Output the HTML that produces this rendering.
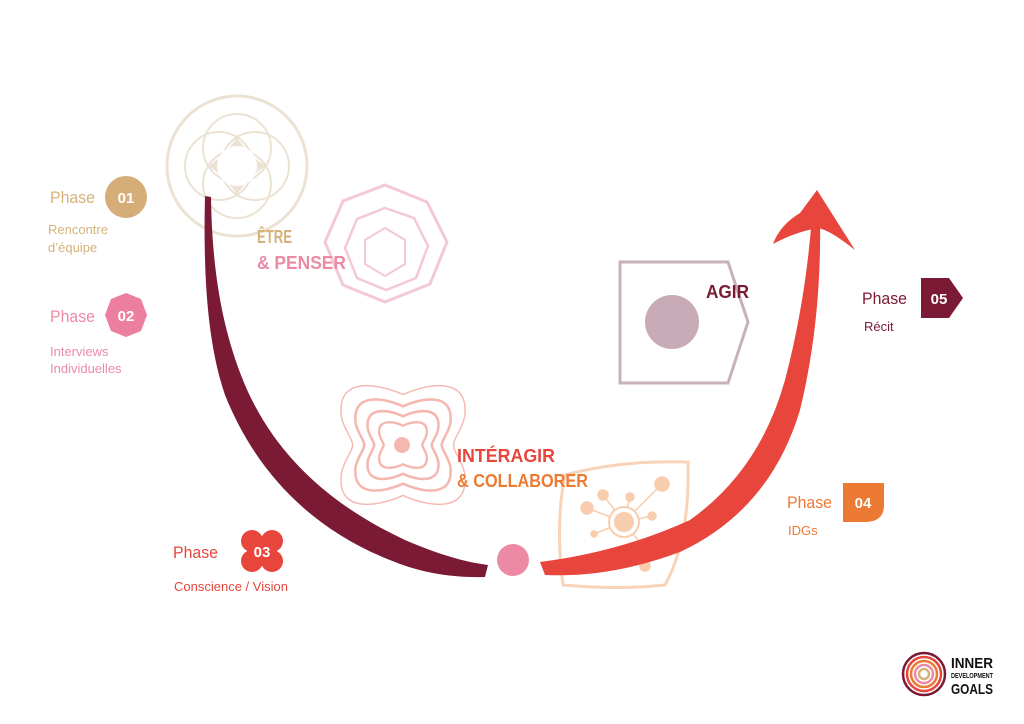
<!DOCTYPE html>
<html><head><meta charset="utf-8"><style>
html,body{margin:0;padding:0;background:#fff;}
svg{display:block}
.cond{font-family:"Liberation Sans",sans-serif;font-weight:bold}
.ph{font-family:"Liberation Sans",sans-serif}
.lab{font-family:"Liberation Sans",sans-serif}
</style></head><body>
<svg width="1024" height="724" viewBox="0 0 1024 724" xmlns="http://www.w3.org/2000/svg">
<defs>
<path id="fl" d="M0,-45 C22,-55 60,-62 55,-25 C52,-12 45,-6 45,0 C45,6 52,12 55,25 C60,62 22,55 0,45 C-22,55 -60,62 -55,25 C-52,12 -45,6 -45,0 C-45,-6 -52,-12 -55,-25 C-60,-62 -22,-55 0,-45Z"/>
</defs>
<rect width="1024" height="724" fill="#fff"/>
<!-- circles top-left -->
<g fill="none" stroke="#ece2d3" stroke-width="3">
<circle cx="237" cy="166" r="70"/>
<circle cx="237" cy="148" r="34" stroke-width="2"/>
<circle cx="237" cy="184" r="34" stroke-width="2"/>
<circle cx="219" cy="166" r="34" stroke-width="2"/>
<circle cx="255" cy="166" r="34" stroke-width="2"/>
</g>
<path d="M237 138 Q252 158 266 166 Q252 174 237 194 Q222 174 208 166 Q222 158 237 138Z" fill="#ece2d3"/>
<circle cx="237" cy="166" r="20" fill="#fff"/>
<!-- octagons -->
<g fill="none" stroke="#f3c9d3" stroke-width="3">
<polygon points="385,185 427,202 447,242 430,284 385,302 343,285 325,242 343,201"/>
<polygon points="385,208 414,218 428,246 416,278 386,290 357,278 345,248 357,219" stroke-width="2.5"/>
<polygon points="385,228 405,240 405,264 385,276 365,264 365,240" stroke-width="2"/>
</g>
<!-- Agir pentagon -->
<polygon points="620,262 728,262 748,322 728,383 620,383" fill="none" stroke="#c8b0bc" stroke-width="3"/>
<circle cx="672" cy="322" r="27" fill="#c9aab7"/>
<!-- flower -->
<g fill="none" stroke="#f4b8b0">
<use href="#fl" transform="translate(403,445) scale(1.12)" stroke-width="1.3"/>
<use href="#fl" transform="translate(403,445) scale(0.86)" stroke-width="3"/>
<use href="#fl" transform="translate(403,445) scale(0.64)" stroke-width="4"/>
<use href="#fl" transform="translate(403,445) scale(0.43)" stroke-width="5.5"/>
</g>
<circle cx="402" cy="445" r="8" fill="#f4b8b0"/>
<!-- leaf -->
<path d="M565 475 Q620 460 688 462 Q690 540 665 585 Q620 590 563 585 Q555 525 565 475Z" fill="none" stroke="#f8d3b8" stroke-width="3"/>
<g stroke="#f8cdae" stroke-width="1.5" fill="#f8cdae">
<line x1="624" y1="522" x2="603" y2="495"/><line x1="624" y1="522" x2="630" y2="497"/><line x1="624" y1="522" x2="662" y2="484"/>
<line x1="624" y1="522" x2="587" y2="508"/><line x1="624" y1="522" x2="652" y2="516"/><line x1="624" y1="522" x2="594" y2="534"/>
<line x1="624" y1="522" x2="644" y2="548"/>
<circle cx="603" cy="495" r="5"/><circle cx="630" cy="497" r="4"/><circle cx="662" cy="484" r="7"/>
<circle cx="587" cy="508" r="6"/><circle cx="652" cy="516" r="4"/><circle cx="594" cy="534" r="3"/>
<circle cx="645" cy="566" r="5"/>
</g>
<circle cx="624" cy="522" r="15" fill="#fff" stroke="#f8cdae" stroke-width="2"/>
<circle cx="624" cy="522" r="10" fill="#f8cdae"/>
<!-- maroon stroke -->
<path d="M205 196 L211 197 C212 270 222 330 245 385 C275 455 330 505 405 540 C440 555 465 562 488 565 L485 577 C450 578 420 572 395 562 C310 530 255 470 225 395 C208 345 203 280 205 196 Z" fill="#7b1a35"/>
<!-- center dot -->
<circle cx="513" cy="560" r="16" fill="#ec8aa6"/>
<!-- red arrow -->
<path d="M540 562 Q620 552 690 520 Q760 470 785 380 Q806 300 812 215 L820 215 Q822 320 800 410 Q770 510 680 552 Q610 578 545 575 Z" fill="#e8453c"/>
<path d="M817 190 L855 250 Q830 230 818 228 Q795 232 773 244 Q780 225 800 213 Z" fill="#e8453c"/>
<!-- center labels -->
<text x="257" y="243" class="cond" font-size="18" fill="#d6b27a" textLength="35" lengthAdjust="spacingAndGlyphs">ÊTRE</text>
<text x="257" y="269" class="cond" font-size="18" fill="#ec8aa6" textLength="89" lengthAdjust="spacingAndGlyphs">&amp; PENSER</text>
<text x="457" y="462" class="cond" font-size="18" fill="#e8453c" textLength="98" lengthAdjust="spacingAndGlyphs">INTÉRAGIR</text>
<text x="457" y="487" class="cond" font-size="18" fill="#ec7a32" textLength="131" lengthAdjust="spacingAndGlyphs">&amp; COLLABORER</text>
<text x="706" y="298" class="cond" font-size="18" fill="#7b1a35" textLength="43" lengthAdjust="spacingAndGlyphs">AGIR</text>
<!-- phase 01 -->
<text x="50" y="203" class="ph" font-size="17" fill="#d6b27a" textLength="45" lengthAdjust="spacingAndGlyphs">Phase</text>
<circle cx="126" cy="197" r="21" fill="#d4ad78"/>
<text x="126" y="203" class="cond" font-size="15" fill="#fff" text-anchor="middle">01</text>
<text x="48" y="234" class="lab" font-size="13" fill="#d6b27a">Rencontre</text>
<text x="48" y="252" class="lab" font-size="13" fill="#d6b27a">d’équipe</text>
<!-- phase 02 -->
<text x="50" y="322" class="ph" font-size="17" fill="#ec8aa6" textLength="45" lengthAdjust="spacingAndGlyphs">Phase</text>
<polygon points="126,293 141,299 147,315 141,331 126,337 111,331 105,315 111,299" fill="#ec7f9f"/>
<text x="126" y="321" class="cond" font-size="15" fill="#fff" text-anchor="middle">02</text>
<text x="50" y="356" class="lab" font-size="13" fill="#ec8aa6">Interviews</text>
<text x="50" y="373" class="lab" font-size="13" fill="#ec8aa6">Individuelles</text>
<!-- phase 03 -->
<text x="173" y="558" class="ph" font-size="17" fill="#e8453c" textLength="45" lengthAdjust="spacingAndGlyphs">Phase</text>
<g fill="#e8453c"><circle cx="252" cy="541" r="11"/><circle cx="272" cy="541" r="11"/><circle cx="252" cy="561" r="11"/><circle cx="272" cy="561" r="11"/><rect x="247" y="536" width="30" height="30"/></g>
<text x="262" y="557" class="cond" font-size="15" fill="#fff" text-anchor="middle">03</text>
<text x="174" y="591" class="lab" font-size="13" fill="#e8453c">Conscience / Vision</text>
<!-- phase 04 -->
<text x="787" y="508" class="ph" font-size="17" fill="#ec7a32" textLength="45" lengthAdjust="spacingAndGlyphs">Phase</text>
<path d="M843 483 L884 483 L884 505 Q884 522 865 522 L843 522 Z" fill="#ec7a32"/>
<text x="863" y="508" class="cond" font-size="15" fill="#fff" text-anchor="middle">04</text>
<text x="788" y="535" class="lab" font-size="13" fill="#ec7a32">IDGs</text>
<!-- phase 05 -->
<text x="862" y="304" class="ph" font-size="17" fill="#7b1a35" textLength="45" lengthAdjust="spacingAndGlyphs">Phase</text>
<polygon points="921,278 949,278 963,298 949,318 921,318" fill="#7b1a35"/>
<text x="939" y="304" class="cond" font-size="15" fill="#fff" text-anchor="middle">05</text>
<text x="864" y="331" class="lab" font-size="13" fill="#7b1a35">Récit</text>
<!-- logo -->
<g fill="none" stroke-width="2.5">
<circle cx="924" cy="674" r="21" stroke="#7b1a35"/>
<circle cx="924" cy="674" r="17" stroke="#e8453c"/>
<circle cx="924" cy="674" r="13" stroke="#ec7a32"/>
<circle cx="924" cy="674" r="9" stroke="#ec8aa6"/>
<circle cx="924" cy="674" r="5" stroke="#d6b27a"/>
</g>
<text x="951" y="668" class="cond" font-size="15" fill="#111" textLength="42" lengthAdjust="spacingAndGlyphs">INNER</text>
<text x="951" y="678" class="cond" font-size="7" fill="#111" textLength="42" lengthAdjust="spacingAndGlyphs">DEVELOPMENT</text>
<text x="951" y="694" class="cond" font-size="15" fill="#111" textLength="42" lengthAdjust="spacingAndGlyphs">GOALS</text>
</svg>
</body></html>
